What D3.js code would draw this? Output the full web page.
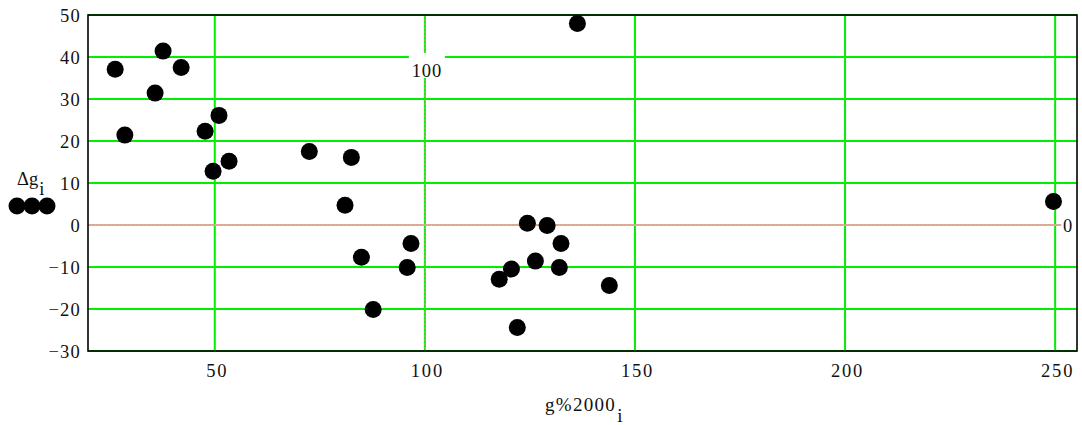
<!DOCTYPE html>
<html>
<head>
<meta charset="utf-8">
<script src="https://cdn.jsdelivr.net/npm/d3@7"></script>
<style>
  html, body { margin: 0; padding: 0; background: #fff; }
  svg { display: block; }
  text { font-family: "Liberation Serif", "Times New Roman", serif; fill: #111; }
</style>
</head>
<body>
<svg id="chart" width="1082" height="425"></svg>
<script>
// Scatter of residuals Δg_i against g%2000_i
const gValues = [26.3, 28.6, 37.7, 35.8, 42.0, 47.7, 51.0, 49.6, 53.4, 72.5,
                 82.5, 81.0, 84.9, 87.7, 95.8, 96.7, 117.7, 120.6, 122.0, 124.4,
                 126.3, 129.1, 132.4, 132.0, 136.3, 143.9, 249.6];
const dgValues = [37.1, 21.4, 41.4, 31.4, 37.5, 22.3, 26.1, 12.8, 15.2, 17.5,
                  16.1, 4.7, -7.7, -20.1, -10.1, -4.4, -12.9, -10.5, -24.4, 0.4,
                  -8.6, -0.1, -4.4, -10.1, 48.0, -14.4, 5.6];
const xTicks = [50, 100, 150, 200, 250];
const yTicks = [-30, -20, -10, 0, 10, 20, 30, 40, 50];
const xMarker = 100;
const yMarker = 0;

const svg = d3.select("#chart");
const plotL = 88, plotR = 1077, plotT = 15, plotB = 351;

const x = d3.scaleLinear().domain([19.83, 255.2]).range([plotL, plotR]);
const y = d3.scaleLinear().domain([-30, 50]).range([plotB, plotT]);

const green = "#00ee00";
const fmt = v => (v < 0 ? "\u2212" + Math.abs(v) : String(v));

// grid
svg.append("g").selectAll("line").data(yTicks.filter(d => d !== yMarker)).join("line")
  .attr("x1", plotL).attr("x2", plotR)
  .attr("y1", d => y(d)).attr("y2", d => y(d))
  .attr("stroke", green).attr("stroke-width", 2);
svg.append("g").selectAll("line").data(xTicks).join("line")
  .attr("x1", d => x(d)).attr("x2", d => x(d))
  .attr("y1", plotT).attr("y2", plotB)
  .attr("stroke", green).attr("stroke-width", 2);

// horizontal marker line at yMarker (tan, dotted)
svg.append("line")
  .attr("x1", plotL).attr("x2", x(250) + 6)
  .attr("y1", y(yMarker)).attr("y2", y(yMarker))
  .attr("stroke", "#9fd67f").attr("stroke-width", 2);
svg.append("line")
  .attr("x1", plotL).attr("x2", x(250) + 6)
  .attr("y1", y(yMarker)).attr("y2", y(yMarker))
  .attr("stroke", "#d9a98f").attr("stroke-width", 2).attr("stroke-dasharray", "3,1");
// vertical marker line at xMarker
svg.append("line")
  .attr("x1", x(xMarker)).attr("x2", x(xMarker))
  .attr("y1", plotT).attr("y2", plotB)
  .attr("stroke", "#d8a090").attr("stroke-width", 0.8).attr("stroke-dasharray", "2,2");

// frame
svg.append("rect")
  .attr("x", plotL).attr("y", plotT)
  .attr("width", plotR - plotL).attr("height", plotB - plotT)
  .attr("fill", "none").attr("stroke", "#000").attr("stroke-width", 1.6);

// marker labels
const mx = svg.append("g");
mx.append("rect").attr("x", x(xMarker) - 16).attr("y", 53).attr("width", 36).attr("height", 25).attr("fill", "#fff");
mx.append("text").attr("x", x(xMarker) + 2).attr("y", 77)
  .attr("text-anchor", "middle").attr("font-size", 18.5).attr("letter-spacing", 0.8)
  .text(xMarker);
svg.append("text").attr("x", 1063).attr("y", y(yMarker) + 7)
  .attr("font-size", 18.5).text(yMarker);

// axes tick labels
const yAxis = d3.axisLeft(y).tickValues(yTicks).tickFormat(fmt).tickSize(0).tickPadding(7);
const gy = svg.append("g").attr("transform", `translate(${plotL},0)`).call(yAxis);
gy.select(".domain").remove();
gy.selectAll("text").attr("font-size", 18.5).attr("letter-spacing", 1.2)
  .attr("font-family", "Liberation Serif").attr("fill", "#111").attr("dy", "0.35em");

const xAxis = d3.axisBottom(x).tickValues(xTicks).tickFormat(fmt).tickSize(0).tickPadding(13);
const gx = svg.append("g").attr("transform", `translate(0,${plotB})`).call(xAxis);
gx.select(".domain").remove();
gx.selectAll("text").attr("font-size", 18.5).attr("letter-spacing", 1.8)
  .attr("font-family", "Liberation Serif").attr("fill", "#111").attr("dx", "2");

// points
svg.append("g").selectAll("circle").data(gValues).join("circle")
  .attr("cx", d => x(d))
  .attr("cy", (d, i) => y(dgValues[i]))
  .attr("r", 8.5)
  .attr("fill", "#000");

// y label with legend symbol
const yl = svg.append("text").attr("x", 17).attr("y", 185).attr("font-size", 18.5);
yl.append("tspan").text("\u0394g");
yl.append("tspan").attr("dy", 10).attr("dx", 1).text("i");
svg.append("g").selectAll("circle").data([17, 32, 47]).join("circle")
  .attr("cx", d => d).attr("cy", 206).attr("r", 8.5).attr("fill", "#000");

// x label (name with subscript)
const xl = svg.append("text").attr("x", 545).attr("y", 411).attr("font-size", 19).attr("letter-spacing", 1.3);
xl.append("tspan").text("g%2000");
xl.append("tspan").attr("dy", 11).attr("dx", 1).text("i");
</script>
</body>
</html>
